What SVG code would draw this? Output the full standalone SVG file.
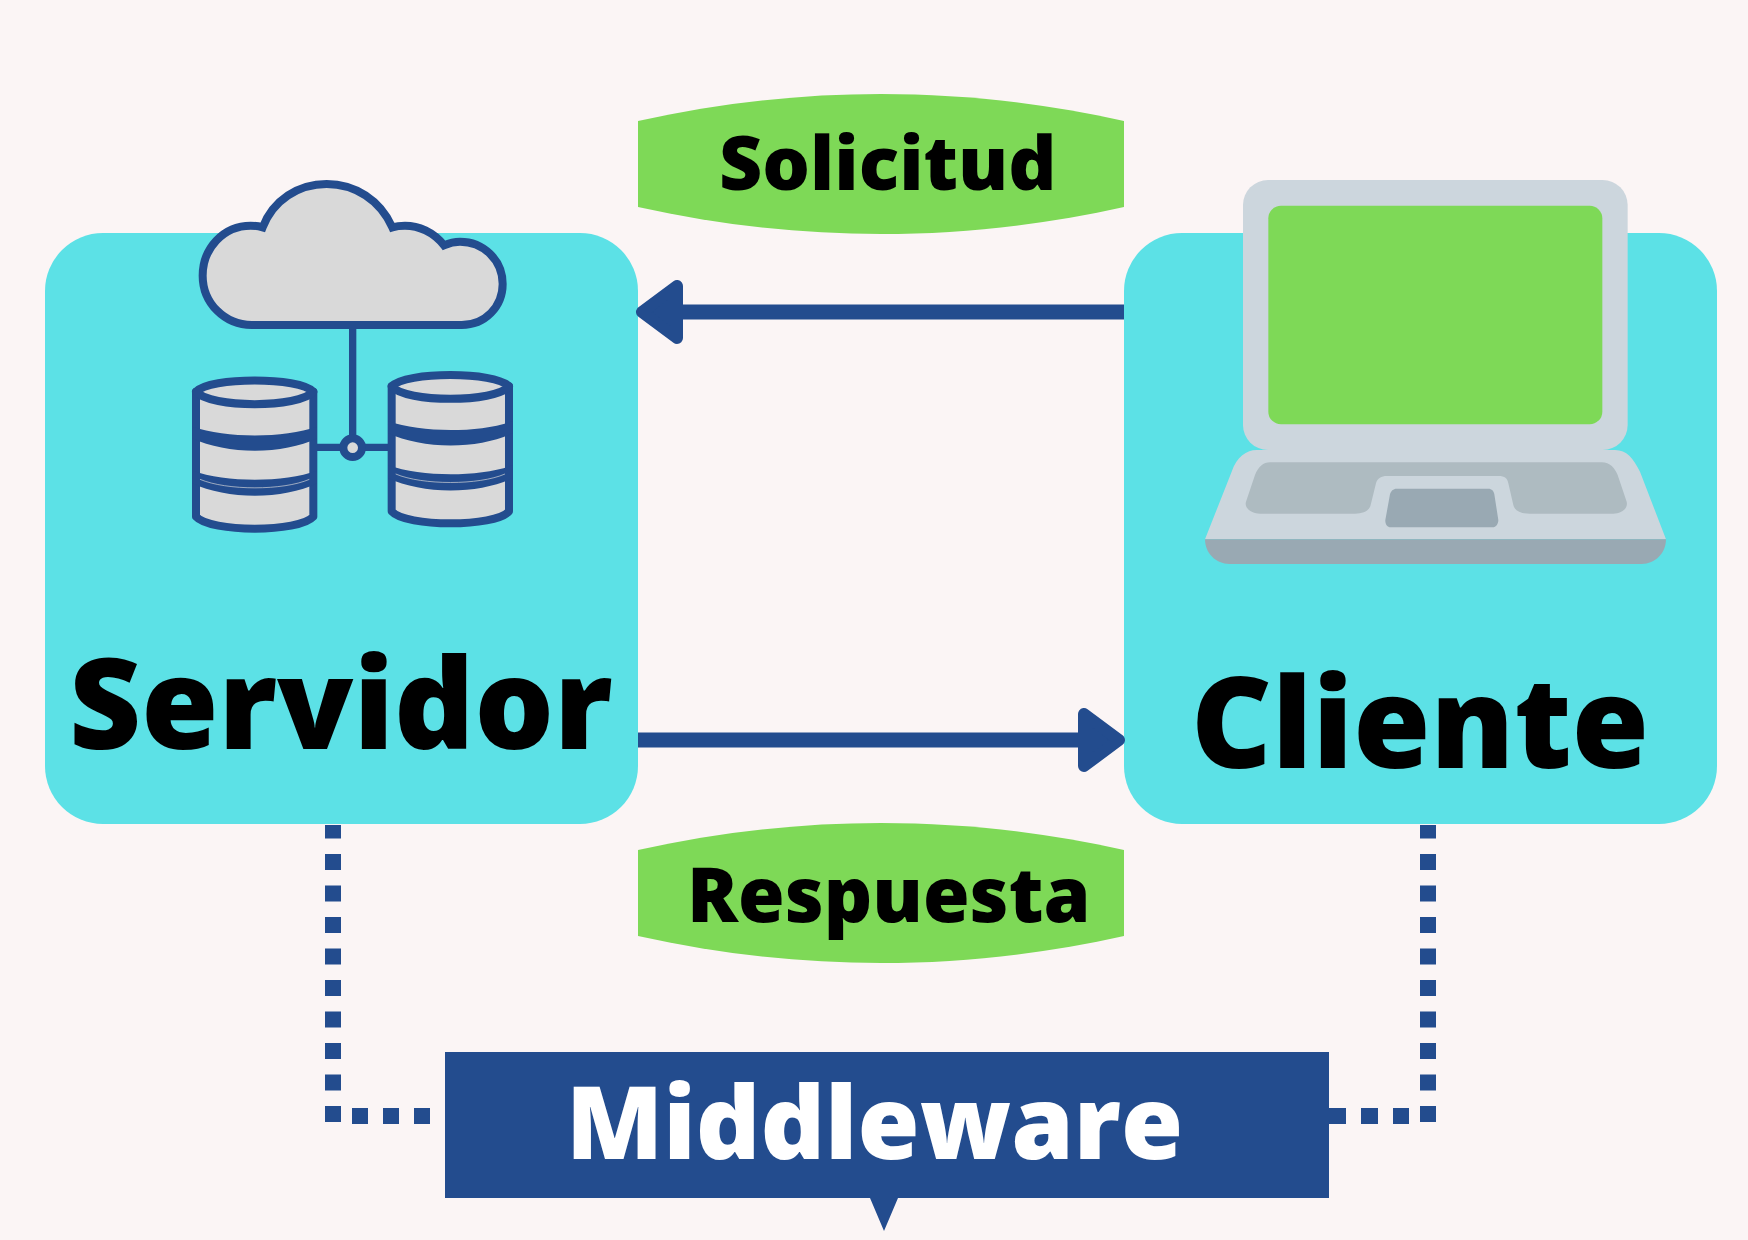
<svg xmlns="http://www.w3.org/2000/svg" xmlns:xlink="http://www.w3.org/1999/xlink" width="1748" height="1240" viewBox="0 0 1748 1240">
<style>
.box{fill:#5ce1e6}
.band{fill:#7ed957}
.navy{fill:#234c8e}
.ico{fill:#d9d9d9;stroke:#234c8e;stroke-width:24;stroke-linejoin:round}
.cloud{fill:#d9d9d9;stroke:#234c8e;stroke-width:24;stroke-linejoin:miter}
.wire{fill:none;stroke:#234c8e;stroke-width:22}
.dot{fill:none;stroke:#234c8e;stroke-width:16}
.flow{fill:none;stroke:#234c8e;stroke-width:15}
.head{fill:#234c8e;stroke:#234c8e;stroke-width:12;stroke-linejoin:round}
text{font-family:"Open Sans","Noto Sans",sans-serif;font-weight:800}
.big{font-size:125px;fill:#000}
.mid{font-size:75px;fill:#000}
</style>
<defs>
<g id="cyl">
<path class="ico" d="M108 695V1070C150 1118 418 1118 460 1070V695Z"/>
<path class="navy" d="M97 800C200 835 370 835 471 800V835C370 885 200 885 97 835Z"/>
<path class="navy" d="M97 932C200 968 370 968 471 932V970C370 1020 200 1020 97 970Z"/>
<path d="M120 958C200 992 370 992 448 958" fill="none" stroke="#d9d9d9" stroke-width="2"/>
<path class="ico" d="M108 695C150 650 418 650 460 695C418 745 150 745 108 695Z"/>
</g>
</defs>
<rect width="1748" height="1240" fill="#fbf5f5"/>
<g id="servidor">
<rect class="box" x="45" y="233" width="593" height="591" rx="58"/>
<g id="servidor-icon" transform="translate(160 160) scale(.33333)">
<path class="wire" d="M578 495V840M470 862H685"/>
<use xlink:href="#cyl" href="#cyl"/>
<use xlink:href="#cyl" href="#cyl" transform="translate(587 -16)"/>
<circle class="ico" cx="578" cy="863" r="28"/>
<path class="cloud" d="M275 495H905C975 495 1028 440 1028 372C1028 300 970 245 900 245C885 245 870 248 852 256C820 215 775 197 735 197C722 197 710 198 697 202C660 120 585 72 500 72C415 72 340 120 308 202C295 198 285 197 272 197C190 197 128 265 128 347C128 430 195 495 275 495Z"/>
</g>
<text class="big" x="69" y="749">Servidor</text>
</g>
<g id="cliente">
<rect class="box" x="1124" y="233" width="593" height="591" rx="58"/>
<g id="cliente-icon" transform="translate(1180 160) scale(.33333)">
<path fill="#ccd6dd" d="M75 1138L155 935C170 890 200 870 230 870H1305C1340 870 1360 895 1380 935L1458 1138Z"/>
<rect x="189" y="60" width="1154" height="810" rx="75" fill="#ccd6dd"/>
<rect class="band" x="265" y="137" width="1002" height="656" rx="38"/>
<path fill="#aebbc1" d="M270 907H1265C1290 907 1305 925 1313 945L1340 1025C1345 1045 1325 1061 1300 1061H1050C1025 1061 1005 1055 1000 1035L985 970C982 955 975 948 955 948H620C605 948 592 955 588 970L572 1035C568 1052 550 1061 525 1061H240C215 1061 192 1045 198 1025L225 945C235 920 250 907 270 907Z"/>
<path fill="#99a9b3" d="M650 986H925C935 986 942 993 943 1003L955 1080C955 1092 948 1102 938 1102H632C622 1102 615 1092 616 1080L630 1003C632 993 640 986 650 986Z"/>
<path fill="#99a9b3" d="M75 1138H1458C1458 1180 1425 1212 1385 1212H148C108 1212 75 1180 75 1138Z"/>
</g>
<text class="big" x="1191" y="768">Cliente</text>
</g>
<g id="solicitud">
<path class="band" d="M638 121C800 85 962 85 1124 121V207C962 243 800 243 638 207Z"/>
<text class="mid" x="719" y="190">Solicitud</text>
</g>
<g id="respuesta">
<path class="band" d="M638 850C800 814 962 814 1124 850V936C962 972 800 972 638 936Z"/>
<text class="mid" x="687" y="922" font-size="76" style="font-size:75.5px">Respuesta</text>
</g>
<g id="middleware">
<path class="navy" d="M445 1052H1329V1198H898L884 1231L870 1198H445Z"/>
<text x="566" y="1159" font-size="100.5" fill="#fff">Middleware</text>
</g>
<g id="connectors">
<path class="flow" d="M1124 312H680"/>
<path class="head" d="M642 312L677 286V338Z"/>
<path class="flow" d="M638 740H1082"/>
<path class="head" d="M1119 740L1084 714V766Z"/>
<path class="dot" d="M333 1122V825" stroke-dasharray="16 15.5"/>
<path class="dot" d="M352 1116H430" stroke-dasharray="16 15"/>
<path class="dot" d="M1428 1122V825" stroke-dasharray="16 15.5"/>
<path class="dot" d="M1329 1116H1409" stroke-dasharray="17 15"/>
</g>
</svg>
